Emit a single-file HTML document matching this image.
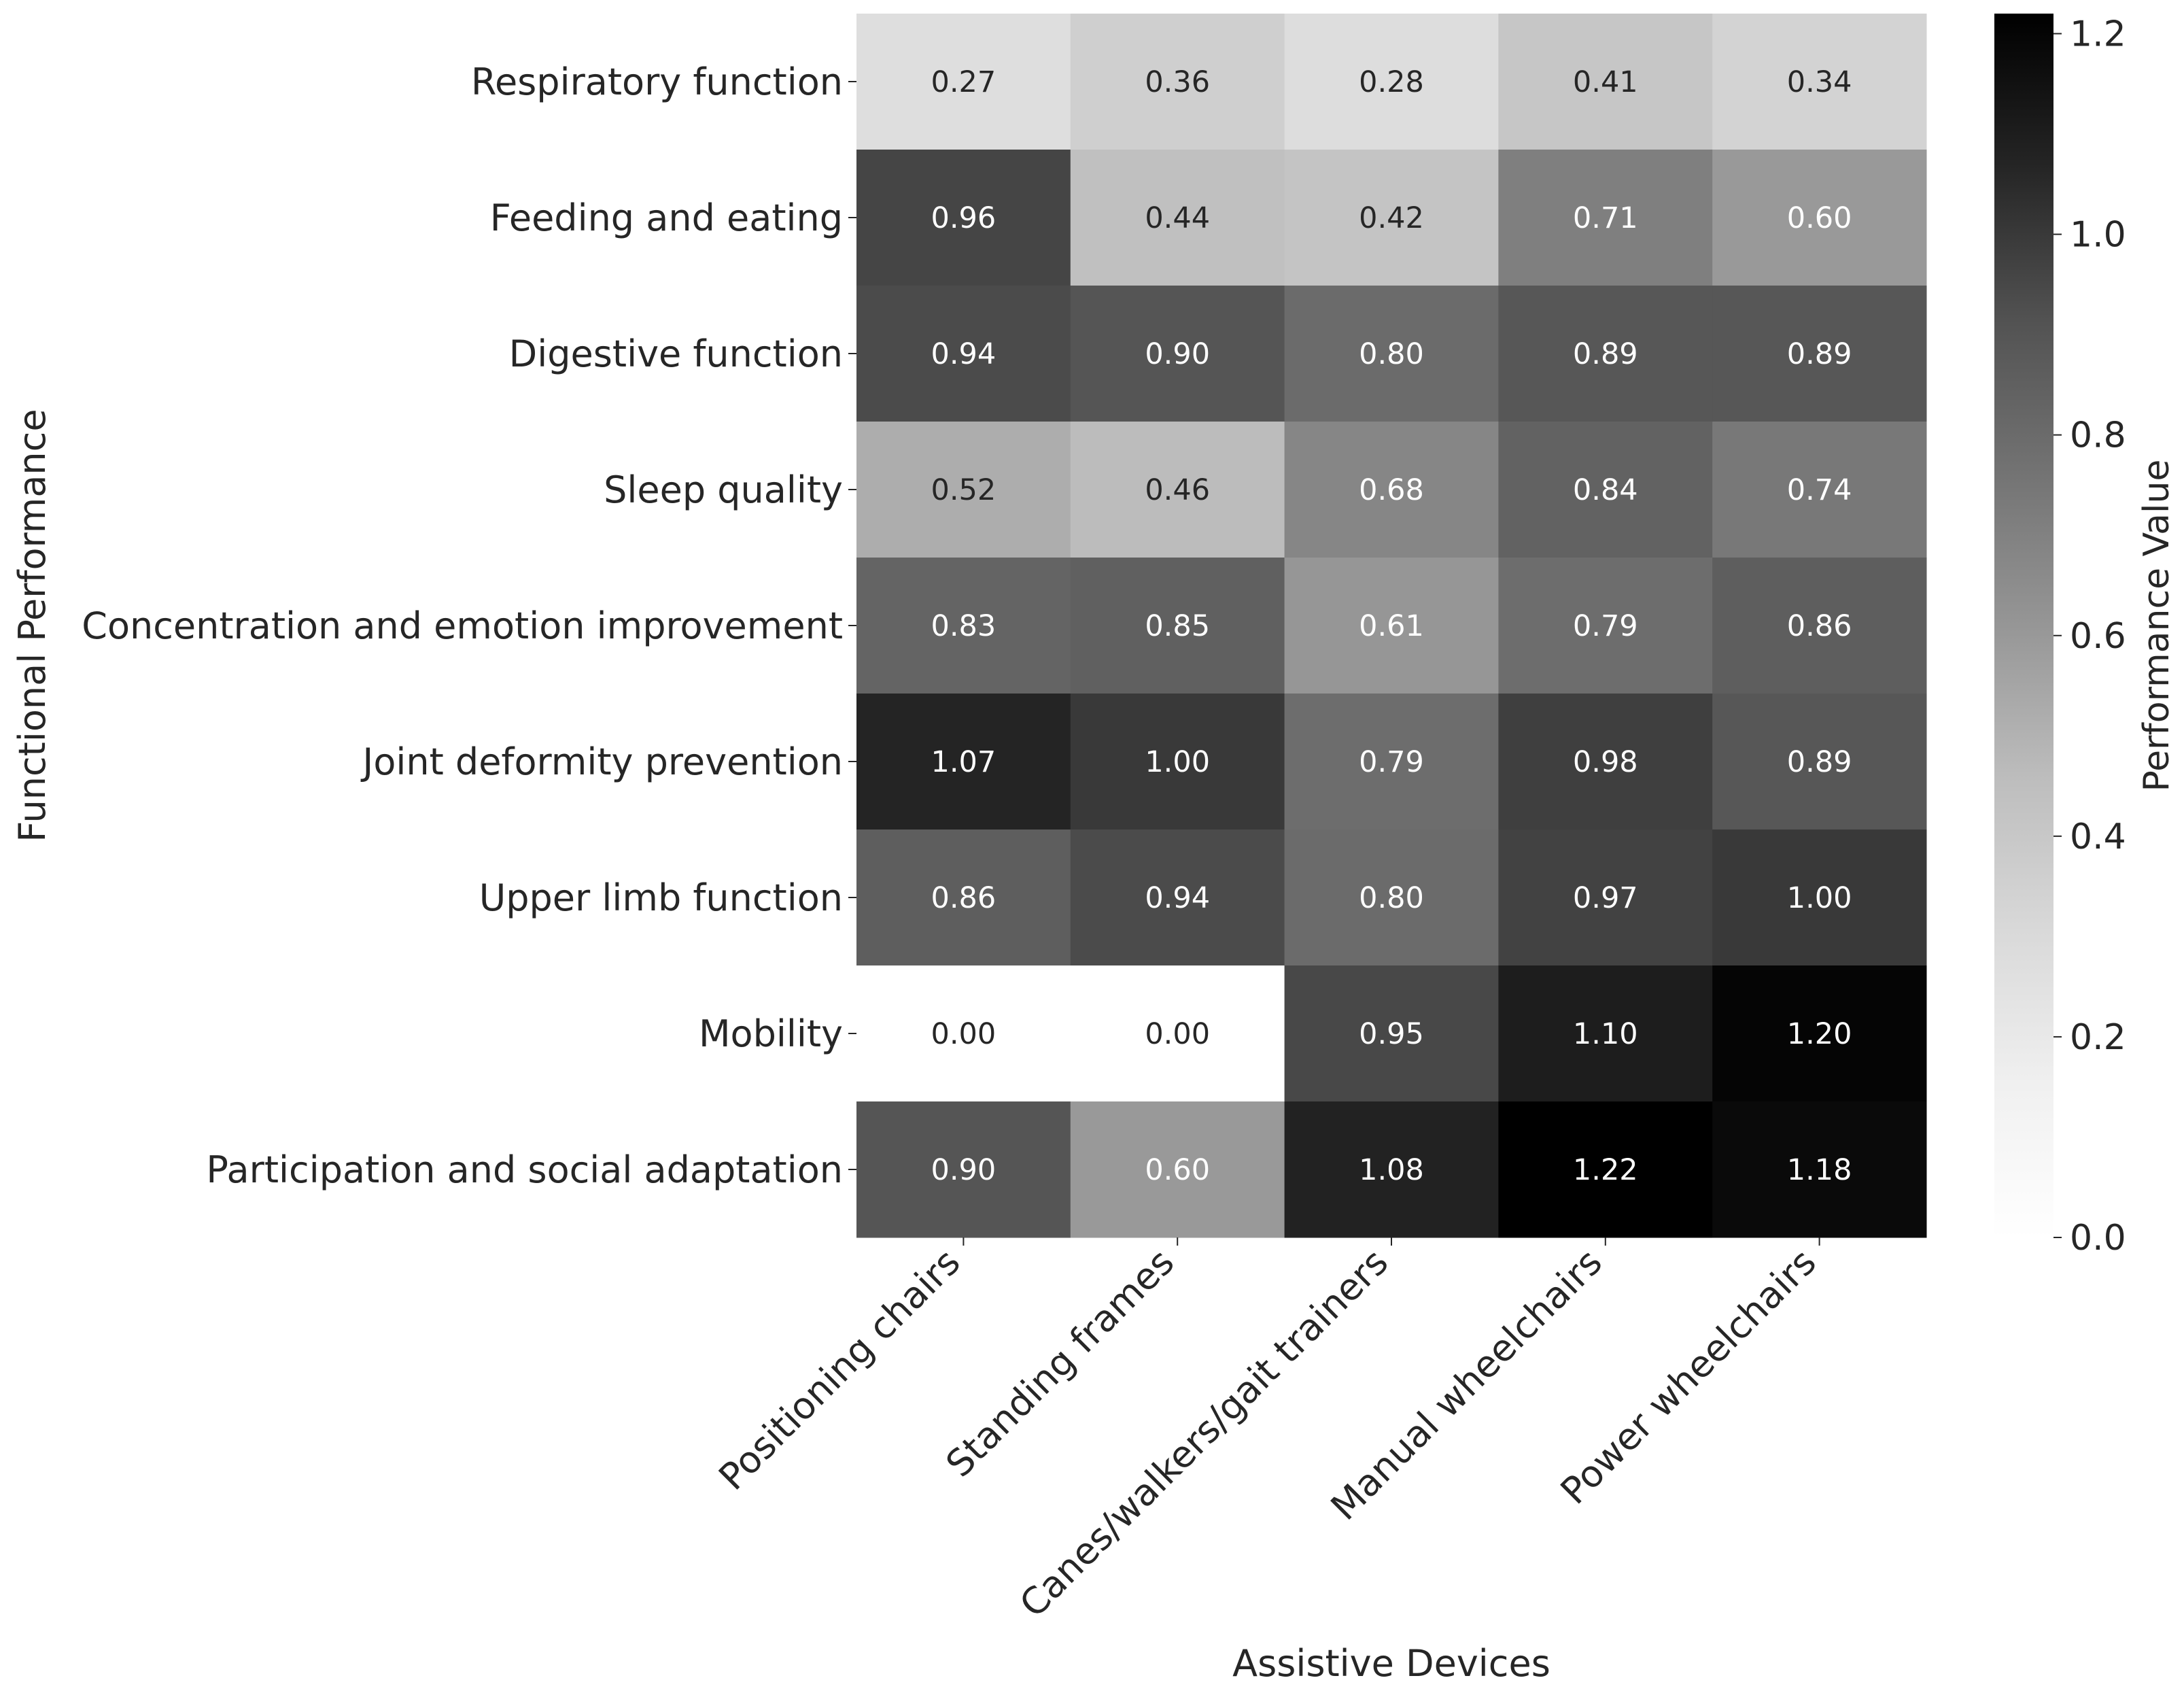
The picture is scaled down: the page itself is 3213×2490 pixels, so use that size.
<!DOCTYPE html>
<html><head><meta charset="utf-8"><style>
html,body{margin:0;padding:0;background:#fff;}
svg text{font-family:"DejaVu Sans","Liberation Sans",sans-serif;fill:#262626;}
</style></head><body>
<svg id="chart" width="3213" height="2485" viewBox="0 0 3213 2485" xmlns="http://www.w3.org/2000/svg">
<defs><linearGradient id="cbg" x1="0" y1="1" x2="0" y2="0">
<stop offset="0" stop-color="#ffffff"/><stop offset="0.125" stop-color="#f0f0f0"/><stop offset="0.25" stop-color="#d9d9d9"/><stop offset="0.375" stop-color="#bdbdbd"/><stop offset="0.5" stop-color="#969696"/><stop offset="0.625" stop-color="#737373"/><stop offset="0.75" stop-color="#525252"/><stop offset="0.875" stop-color="#252525"/><stop offset="1" stop-color="#000000"/>
</linearGradient></defs>
<g id="cells"></g>
</svg>
<script>
const rows = ["Respiratory function","Feeding and eating","Digestive function","Sleep quality","Concentration and emotion improvement","Joint deformity prevention","Upper limb function","Mobility","Participation and social adaptation"];
const cols = ["Positioning chairs","Standing frames","Canes/walkers/gait trainers","Manual wheelchairs","Power wheelchairs"];
const values = [
[0.27,0.36,0.28,0.41,0.34],
[0.96,0.44,0.42,0.71,0.60],
[0.94,0.90,0.80,0.89,0.89],
[0.52,0.46,0.68,0.84,0.74],
[0.83,0.85,0.61,0.79,0.86],
[1.07,1.00,0.79,0.98,0.89],
[0.86,0.94,0.80,0.97,1.00],
[0.00,0.00,0.95,1.10,1.20],
[0.90,0.60,1.08,1.22,1.18]];
const cbTicks = [0.0,0.2,0.4,0.6,0.8,1.0,1.2];
const vmin = 0, vmax = 1.22;

const greys=[255,240,217,189,150,115,82,37,0];
const NS="http://www.w3.org/2000/svg";
const svg=document.getElementById('chart');
const L=1260,T=20,W=1574,H=1800;
const cw=W/cols.length, rh=H/rows.length;
const xC=i=>L+cw*(i+0.5), yC=j=>T+rh*(j+0.5);
function mk(tag,attrs,parent){const e=document.createElementNS(NS,tag);for(const k in attrs)e.setAttribute(k,attrs[k]);(parent||svg).appendChild(e);return e;}
function gray(v){const t=Math.max(0,Math.min(1,(v-vmin)/(vmax-vmin)));const p=t*8,k=Math.min(7,Math.floor(p)),f=p-k;return Math.round(greys[k]+(greys[k+1]-greys[k])*f);}
const cg=document.getElementById('cells');
values.forEach((row,j)=>row.forEach((v,i)=>{
  const g=gray(v);
  const r=mk('rect',{x:L+cw*i,y:T+rh*j,width:cw+0.5,height:rh+0.5,fill:`rgb(${g},${g},${g})`},cg);
  
  
  const lin=Math.pow(g/255,2.2);
  const t=mk('text',{x:xC(i),y:yC(j)+15,'text-anchor':'middle','font-size':43},cg);
  t.style.fill=lin>0.408?'#262626':'#ffffff';
  t.textContent=v.toFixed(2);
  
  
}));
rows.forEach((r,j)=>{
  mk('line',{x1:L-12,x2:L,y1:yC(j),y2:yC(j),stroke:'#262626','stroke-width':2});
  const t=mk('text',{x:L-20,y:yC(j)+19,'text-anchor':'end','font-size':54});
  t.textContent=r;
  
  
});
cols.forEach((c,i)=>{
  mk('line',{x1:xC(i),x2:xC(i),y1:T+H,y2:T+H+12,stroke:'#262626','stroke-width':2});
  const x=xC(i)-2,y=T+H+40;
  const t=mk('text',{x:x,y:y,'text-anchor':'end','font-size':54,transform:`rotate(-45 ${x} ${y})`});
  t.textContent=c;
  
  
});
const xt=mk('text',{x:L+W/2,y:2465,'text-anchor':'middle','font-size':54});
xt.textContent='Assistive Devices';


const yt=mk('text',{x:66,y:T+H/2,'text-anchor':'middle','font-size':54,transform:`rotate(-90 66 ${T+H/2})`});
yt.textContent='Functional Performance';


const CX=2934,CW=87,CT=20,CB=1820;
const cb=mk('rect',{x:CX,y:CT,width:CW,height:CB-CT,fill:'url(#cbg)'});


const cy=v=>CB-(v-vmin)/(vmax-vmin)*(CB-CT);
cbTicks.forEach(v=>{
  mk('line',{x1:CX+CW,x2:CX+CW+12,y1:cy(v),y2:cy(v),stroke:'#262626','stroke-width':2});
  const t=mk('text',{x:CX+CW+24,y:cy(v)+18,'font-size':52});
  t.textContent=v.toFixed(1);
  
  
});
const ct=mk('text',{x:3190,y:T+H/2,'text-anchor':'middle','font-size':52,transform:`rotate(-90 3190 ${T+H/2})`});
ct.textContent='Performance Value';


</script>
</body></html>
